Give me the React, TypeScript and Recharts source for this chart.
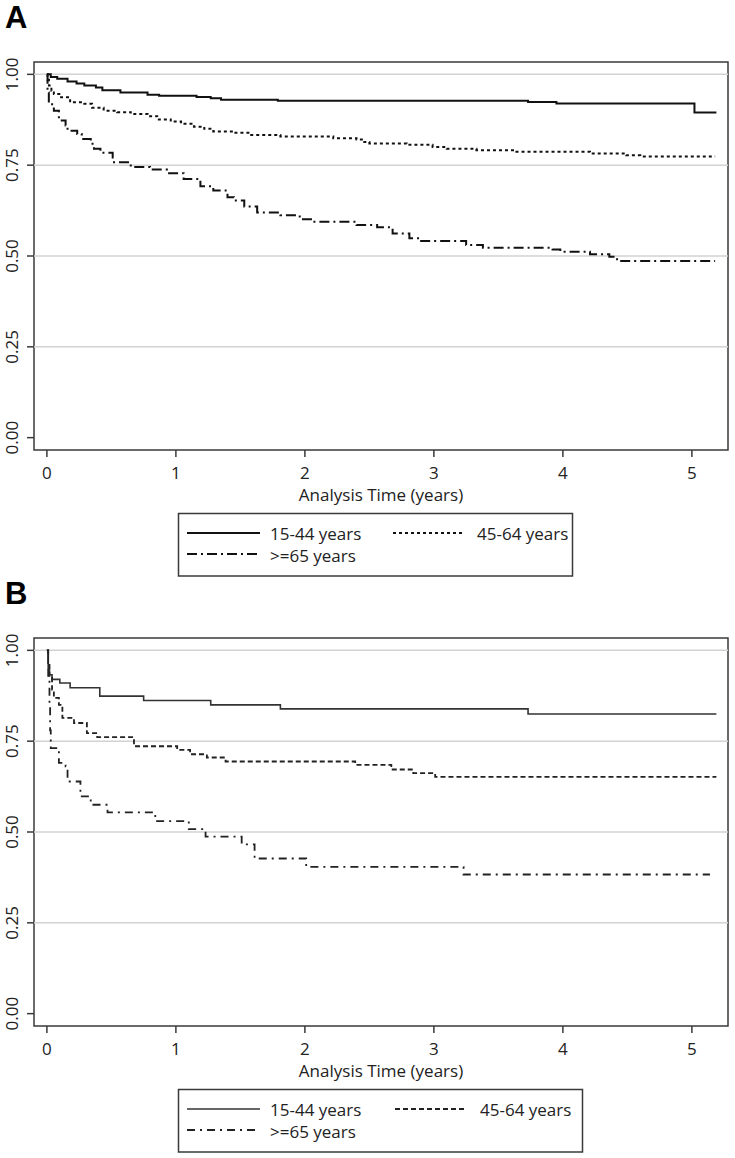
import React from 'react';
import { LineChart, Line, XAxis, YAxis, ReferenceLine, ReferenceArea, Label } from 'recharts';

// ---------- data ----------
const xTicks = [0, 1, 2, 3, 4, 5];
const yTicks = [0, 0.25, 0.5, 0.75, 1];
const gridValues = [0.25, 0.5, 0.75, 1];
const seriesNames = ['15-44 years', '45-64 years', '>=65 years'];

// Panel A
const tA1 = [0, 0.03, 0.08, 0.16, 0.23, 0.29, 0.38, 0.43, 0.57, 0.78, 0.87, 1.16, 1.27, 1.35, 1.79, 3.73, 3.95, 5.02, 5.19];
const sA1 = [1.0, 0.993, 0.988, 0.98, 0.975, 0.969, 0.964, 0.956, 0.95, 0.944, 0.941, 0.938, 0.934, 0.93, 0.927, 0.924, 0.92, 0.895, 0.895];

const tA2 = [0, 0.005, 0.016, 0.035, 0.054, 0.11, 0.18, 0.29, 0.35, 0.44, 0.545, 0.65, 0.78, 0.855, 0.96, 1.04, 1.14, 1.22, 1.29, 1.45, 1.57, 1.81, 2.22, 2.4, 2.45, 2.5, 2.79, 2.99, 3.1, 3.33, 3.64, 4.21, 4.49, 4.6, 5.18];
const sA2 = [1.0, 0.985, 0.969, 0.955, 0.946, 0.937, 0.923, 0.919, 0.908, 0.9, 0.896, 0.891, 0.885, 0.876, 0.87, 0.864, 0.856, 0.85, 0.843, 0.839, 0.833, 0.829, 0.824, 0.821, 0.814, 0.81, 0.806, 0.8, 0.795, 0.791, 0.787, 0.782, 0.777, 0.774, 0.774];

const tA3 = [0, 0.005, 0.015, 0.054, 0.093, 0.145, 0.16, 0.235, 0.27, 0.34, 0.365, 0.415, 0.51, 0.65, 0.8, 0.93, 1.06, 1.19, 1.29, 1.4, 1.45, 1.53, 1.63, 1.81, 1.96, 2.06, 2.4, 2.56, 2.68, 2.81, 2.89, 3.25, 3.38, 3.92, 3.98, 4.21, 4.36, 4.42, 4.44, 5.18];
const sA3 = [1.0, 0.95, 0.918, 0.9, 0.873, 0.859, 0.845, 0.836, 0.822, 0.809, 0.795, 0.784, 0.758, 0.745, 0.738, 0.728, 0.712, 0.692, 0.68, 0.662, 0.653, 0.636, 0.62, 0.612, 0.601, 0.594, 0.585, 0.579, 0.562, 0.549, 0.541, 0.53, 0.523, 0.518, 0.512, 0.505, 0.498, 0.491, 0.486, 0.486];

// Panel B
const tB1 = [0, 0.01, 0.02, 0.04, 0.1, 0.18, 0.41, 0.75, 1.27, 1.81, 3.73, 5.19];
const sB1 = [1.0, 0.95, 0.933, 0.92, 0.91, 0.897, 0.874, 0.862, 0.85, 0.839, 0.825, 0.825];

const tB2 = [0, 0.01, 0.02, 0.04, 0.054, 0.093, 0.12, 0.21, 0.31, 0.39, 0.675, 1.01, 1.11, 1.24, 1.385, 2.39, 2.67, 2.84, 3.01, 5.19];
const sB2 = [1.0, 0.96, 0.924, 0.892, 0.869, 0.85, 0.814, 0.8, 0.772, 0.761, 0.736, 0.726, 0.714, 0.705, 0.694, 0.685, 0.672, 0.662, 0.652, 0.652];

const tB3 = [0, 0.01, 0.02, 0.025, 0.03, 0.08, 0.093, 0.145, 0.16, 0.26, 0.34, 0.47, 0.84, 1.1, 1.23, 1.51, 1.61, 2.01, 3.23, 5.14];
const sB3 = [1.0, 0.93, 0.85, 0.78, 0.731, 0.722, 0.69, 0.681, 0.639, 0.598, 0.575, 0.554, 0.53, 0.508, 0.487, 0.466, 0.427, 0.404, 0.383, 0.383];

const zip = (t: number[], s: number[]) => t.map((v, i) => ({ t: v, s: s[i] }));

// ---------- styles ----------
const FONT = "'Open Sans', sans-serif";
const FRAME = '#3a3a3a';
const TEXT = '#222';
const FS = 17;

type Style = { dash?: string; color: string; width: number };
const stylesA: Style[] = [
  { color: '#111', width: 2 },
  { color: '#111', width: 2, dash: '3 3' },
  { color: '#111', width: 2, dash: '10 4 2 4' },
];
const stylesB: Style[] = [
  { color: '#333', width: 1.6 },
  { color: '#222', width: 1.8, dash: '5 3' },
  { color: '#222', width: 1.8, dash: '8 5 2 5' },
];

const panels = [
  { letter: 'A', top: 0, data: [zip(tA1, sA1), zip(tA2, sA2), zip(tA3, sA3)], styles: stylesA, legendW: 394, col2Line: 393, col2Text: 477 },
  { letter: 'B', top: 576, data: [zip(tB1, sB1), zip(tB2, sB2), zip(tB3, sB3)], styles: stylesB, legendW: 404, col2Line: 395, col2Text: 480 },
];

const XMIN = -0.1;
const XMAX = 5.28;
const YMIN = -0.034;
const YMAX = 1.034;

const renderXTick = (p: any) => (
  <text x={p.x} y={479} textAnchor="middle" fontSize={FS} fontFamily={FONT} fill={TEXT}>
    {p.payload.value}
  </text>
);

const renderYTick = (p: any) => (
  <g transform={`translate(18, ${p.y}) rotate(-90)`}>
    <text x={0} y={0} textAnchor="middle" fontSize={FS} fontFamily={FONT} fill={TEXT}>
      {Number(p.payload.value).toFixed(2)}
    </text>
  </g>
);

function Panel({ panel }: { panel: typeof panels[number] }) {
  return (
    <div style={{ position: 'absolute', left: 0, top: panel.top, width: 735, height: 510 }}>
      <LineChart width={735} height={510} margin={{ top: 62, right: 7, bottom: 0, left: 0 }}>
        <XAxis
          type="number"
          dataKey="t"
          domain={[XMIN, XMAX]}
          ticks={xTicks}
          allowDataOverflow
          interval={0}
          axisLine={false}
          stroke={FRAME}
          tickLine={{ stroke: FRAME, strokeWidth: 1.5 }}
          tickSize={7}
          height={60}
          tick={renderXTick}
        >
          <Label
            content={() => (
              <text x={381} y={501} textAnchor="middle" fontSize={FS} fontFamily={FONT} fill={TEXT}>
                Analysis Time (years)
              </text>
            )}
          />
        </XAxis>
        <YAxis
          type="number"
          domain={[YMIN, YMAX]}
          ticks={yTicks}
          allowDataOverflow
          interval={0}
          width={34}
          axisLine={false}
          stroke={FRAME}
          tickLine={{ stroke: FRAME, strokeWidth: 1.5 }}
          tickSize={7}
          tick={renderYTick}
        />
        {gridValues.map((v) => (
          <ReferenceLine key={v} y={v} stroke="#d2d2d2" strokeWidth={1.5} />
        ))}
        <ReferenceArea x1={XMIN} x2={XMAX} y1={YMIN} y2={YMAX} fill="none" fillOpacity={0} stroke={FRAME} strokeWidth={1.5} ifOverflow="visible" />
        {panel.data.map((d, i) => (
          <Line
            key={i}
            data={d}
            dataKey="s"
            name={seriesNames[i]}
            type="stepAfter"
            stroke={panel.styles[i].color}
            strokeWidth={panel.styles[i].width}
            strokeDasharray={panel.styles[i].dash}
            dot={false}
            activeDot={false}
            isAnimationActive={false}
          />
        ))}
      </LineChart>
    </div>
  );
}

function Overlay() {
  return (
    <svg width={735} height={1158} style={{ position: 'absolute', left: 0, top: 0, pointerEvents: 'none' }}>
      {panels.map((p) => {
        const o = p.top;
        const items = [
          { x1: 187, x2: 260, tx: 270, ly: 533, ty: 540 },
          { x1: p.col2Line, x2: p.col2Line + 72, tx: p.col2Text, ly: 533, ty: 540 },
          { x1: 187, x2: 260, tx: 270, ly: 554, ty: 562 },
        ];
        return (
          <g key={p.letter}>
            <text x={5} y={o + 28} fontSize={31} fontWeight="bold" fontFamily="'Liberation Sans', Arial, sans-serif" fill="#000">
              {p.letter}
            </text>
            <rect x={178.5} y={o + 513.5} width={p.legendW} height={62.5} fill="none" stroke={FRAME} strokeWidth={1.5} />
            {items.map((it, i) => (
              <g key={i}>
                <line x1={it.x1} x2={it.x2} y1={o + it.ly} y2={o + it.ly} stroke={p.styles[i].color} strokeWidth={p.styles[i].width} strokeDasharray={p.styles[i].dash} />
                <text x={it.tx} y={o + it.ty} fontSize={FS} fontFamily={FONT} fill={TEXT}>
                  {seriesNames[i]}
                </text>
              </g>
            ))}
          </g>
        );
      })}
    </svg>
  );
}

export default function App() {
  return (
    <div style={{ position: 'absolute', left: 0, top: 0, width: 735, height: 1158, background: '#fff' }}>
      {panels.map((p) => (
        <Panel key={p.letter} panel={p} />
      ))}
      <Overlay />
    </div>
  );
}
